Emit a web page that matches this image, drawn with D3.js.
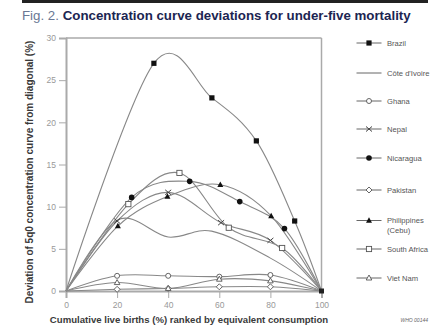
<!DOCTYPE html>
<html>
<head>
<meta charset="utf-8">
<script src="https://cdn.jsdelivr.net/npm/d3@7"></script>
<style>
  html, body { margin: 0; padding: 0; background: #fff; }
  svg { display: block; }
</style>
</head>
<body>
<svg id="chart" width="434" height="330"></svg>
<script>
// Concentration curve deviations for under-five mortality, by country
const countries = ["Brazil", "Côte d'Ivoire", "Ghana", "Nepal", "Nicaragua", "Pakistan", "Philippines (Cebu)", "South Africa", "Viet Nam"];
const markers   = ["squareFilled", "none", "circleOpen", "cross", "circleFilled", "diamondOpen", "triangleFilled", "squareOpen", "triangleOpen"];

// cumulative live births (%) and deviation (%) for each country
const brazilX = [0, 34.4, 57.1, 74.5, 89.5, 100];
const brazilY = [0, 27.0, 22.9, 17.8, 8.3, 0];
const coteX = [0, 20, 40, 57, 80, 100];
const coteY = [0, 8.4, 6.4, 7.1, 3.9, 0];
const ghanaX = [0, 20, 40, 60, 80, 100];
const ghanaY = [0, 1.8, 1.8, 1.7, 1.9, 0];
const nepalX = [0, 20, 40, 60.7, 80, 100];
const nepalY = [0, 8.3, 11.7, 8.1, 6.0, 0];
const nicaraguaX = [0, 25.7, 48.4, 68, 85.5, 100];
const nicaraguaY = [0, 11.1, 13.0, 10.6, 7.4, 0];
const pakistanX = [0, 20, 40, 60, 80, 100];
const pakistanY = [0, 0.2, 0.3, 0.5, 0.5, 0];
const philippinesX = [0, 20.3, 39.7, 60.4, 80.3, 100];
const philippinesY = [0, 7.7, 11.2, 12.6, 8.9, 0];
const southAfricaX = [0, 24.4, 44.4, 63.7, 84.6, 100];
const southAfricaY = [0, 10.3, 14.0, 7.5, 5.1, 0];
const vietNamX = [0, 20, 40, 60, 80, 100];
const vietNamY = [0, 1.0, 0.3, 1.4, 1.2, 0];

const xTicks = [0, 20, 40, 60, 80, 100];
const yTicks = [0, 5, 10, 15, 20, 25, 30];

const seriesX = [brazilX, coteX, ghanaX, nepalX, nicaraguaX, pakistanX, philippinesX, southAfricaX, vietNamX];
const seriesY = [brazilY, coteY, ghanaY, nepalY, nicaraguaY, pakistanY, philippinesY, southAfricaY, vietNamY];
const series = countries.map((name, i) => ({
  name, marker: markers[i],
  points: seriesX[i].map((x, j) => ({ x, y: seriesY[i][j] }))
}));

const svg = d3.select("#chart");
const FONT = "'Liberation Sans Narrow', 'Arial Narrow', 'Liberation Sans', sans-serif";

const plotLeft = 66, plotRight = 321.5, plotTop = 38, plotBottom = 291;
const x = d3.scaleLinear().domain([0, 100]).range([plotLeft, plotRight]);
const y = d3.scaleLinear().domain([0, 30]).range([plotBottom, plotTop]);

// top rule
svg.append("rect").attr("x", 22).attr("y", 0).attr("width", 406).attr("height", 3).attr("fill", "#222");

// title
const title = svg.append("text").attr("x", 22).attr("y", 20)
  .attr("font-family", FONT).attr("font-size", 13.3);
title.append("tspan").attr("fill", "#6a7894").text("Fig. 2. ");
title.append("tspan").attr("fill", "#1c2552").attr("font-weight", "bold")
  .text("Concentration curve deviations for under-five mortality");

// frame (top and right edges)
const axisGrey = "#aaa";
svg.append("line").attr("x1", plotLeft).attr("x2", plotRight).attr("y1", plotTop).attr("y2", plotTop)
  .attr("stroke", axisGrey).attr("stroke-width", 1.5);
svg.append("line").attr("x1", plotRight).attr("x2", plotRight).attr("y1", plotTop).attr("y2", plotBottom)
  .attr("stroke", axisGrey).attr("stroke-width", 1.5);

// axes
const yAxis = svg.append("g").attr("transform", `translate(${plotLeft},0)`)
  .call(d3.axisLeft(y).tickValues(yTicks).tickSize(7).tickPadding(3));
const xAxis = svg.append("g").attr("transform", `translate(0,${plotBottom})`)
  .call(d3.axisBottom(x).tickValues(xTicks).tickSize(7).tickPadding(4));
[yAxis, xAxis].forEach(g => {
  g.select(".domain").attr("stroke", axisGrey).attr("stroke-width", 2);
  g.selectAll(".tick line").attr("stroke", axisGrey).attr("stroke-width", 1);
  g.selectAll(".tick text").attr("fill", "#999").attr("font-family", FONT).attr("font-size", 8.5);
});

// axis titles
svg.append("text").attr("transform", "translate(33,172) rotate(-90)")
  .attr("text-anchor", "middle").attr("font-family", FONT).attr("font-size", 10)
  .attr("font-weight", "bold").attr("fill", "#3a3a3a")
  .text("Deviation of 5q0 concentration curve from diagonal (%)");
svg.append("text").attr("x", 189).attr("y", 323)
  .attr("text-anchor", "middle").attr("font-family", FONT).attr("font-size", 9.6)
  .attr("font-weight", "bold").attr("fill", "#3a3a3a")
  .text("Cumulative live births (%) ranked by equivalent consumption");

// curves (uniform Catmull-Rom spline through the data points)
const line = d3.line().x(d => x(d.x)).y(d => y(d.y)).curve(d3.curveCatmullRom.alpha(0));
const plot = svg.append("g");
plot.selectAll("path.curve").data(series).join("path").attr("class", "curve")
  .attr("d", d => line(d.points)).attr("fill", "none")
  .attr("stroke", "#888").attr("stroke-width", 1.1);

// marker drawing
function drawMarker(g, type, cx, cy) {
  const s = 2.6;
  switch (type) {
    case "squareFilled":
      g.append("rect").attr("x", cx - s).attr("y", cy - s).attr("width", 2 * s).attr("height", 2 * s).attr("fill", "#111");
      break;
    case "squareOpen":
      g.append("rect").attr("x", cx - s).attr("y", cy - s).attr("width", 2 * s).attr("height", 2 * s)
        .attr("fill", "#fff").attr("stroke", "#555").attr("stroke-width", 0.9);
      break;
    case "circleFilled":
      g.append("circle").attr("cx", cx).attr("cy", cy).attr("r", 2.8).attr("fill", "#111");
      break;
    case "circleOpen":
      g.append("circle").attr("cx", cx).attr("cy", cy).attr("r", 2.5)
        .attr("fill", "#fff").attr("stroke", "#555").attr("stroke-width", 0.9);
      break;
    case "diamondOpen":
      g.append("path").attr("d", `M${cx},${cy - 3}L${cx + 3},${cy}L${cx},${cy + 3}L${cx - 3},${cy}Z`)
        .attr("fill", "#fff").attr("stroke", "#555").attr("stroke-width", 0.9);
      break;
    case "triangleFilled":
      g.append("path").attr("d", `M${cx},${cy - 3.2}L${cx + 3},${cy + 2.2}L${cx - 3},${cy + 2.2}Z`).attr("fill", "#111");
      break;
    case "triangleOpen":
      g.append("path").attr("d", `M${cx},${cy - 3}L${cx + 2.8},${cy + 2}L${cx - 2.8},${cy + 2}Z`)
        .attr("fill", "#fff").attr("stroke", "#555").attr("stroke-width", 0.9);
      break;
    case "cross":
      g.append("path").attr("d", `M${cx - 3},${cy - 2.5}L${cx + 3},${cy + 2.5}M${cx - 3},${cy + 2.5}L${cx + 3},${cy - 2.5}`)
        .attr("stroke", "#444").attr("stroke-width", 1);
      break;
  }
}

// markers at interior data points
series.forEach(s => {
  if (s.marker === "none") return;
  const g = plot.append("g");
  s.points.slice(1, -1).forEach(p => drawMarker(g, s.marker, x(p.x), y(p.y)));
});
// shared end point
svg.append("rect").attr("x", x(100) - 2.5).attr("y", y(0) - 2.5).attr("width", 5).attr("height", 5).attr("fill", "#222");

// legend
const legendY = [43, 73, 101, 129, 158, 190, 220.5, 249, 278];
const legend = svg.append("g");
series.forEach((s, i) => {
  const ly = legendY[i];
  legend.append("line").attr("x1", 356.5).attr("x2", 381.5).attr("y1", ly).attr("y2", ly)
    .attr("stroke", "#666").attr("stroke-width", 1);
  drawMarker(legend, s.marker, 369, ly);
  const t = legend.append("text").attr("x", 387).attr("y", ly + 2.6)
    .attr("font-family", FONT).attr("font-size", 7.6).attr("fill", "#555");
  if (s.name === "Philippines (Cebu)") {
    t.append("tspan").attr("x", 387).text("Philippines");
    t.append("tspan").attr("x", 387).attr("dy", 10).text("(Cebu)");
  } else {
    t.text(s.name);
  }
});

// credit line
svg.append("text").attr("x", 428).attr("y", 322).attr("text-anchor", "end")
  .attr("font-family", FONT).attr("font-size", 5).attr("font-style", "italic").attr("fill", "#666")
  .text("WHO 00144");
</script>
</body>
</html>
